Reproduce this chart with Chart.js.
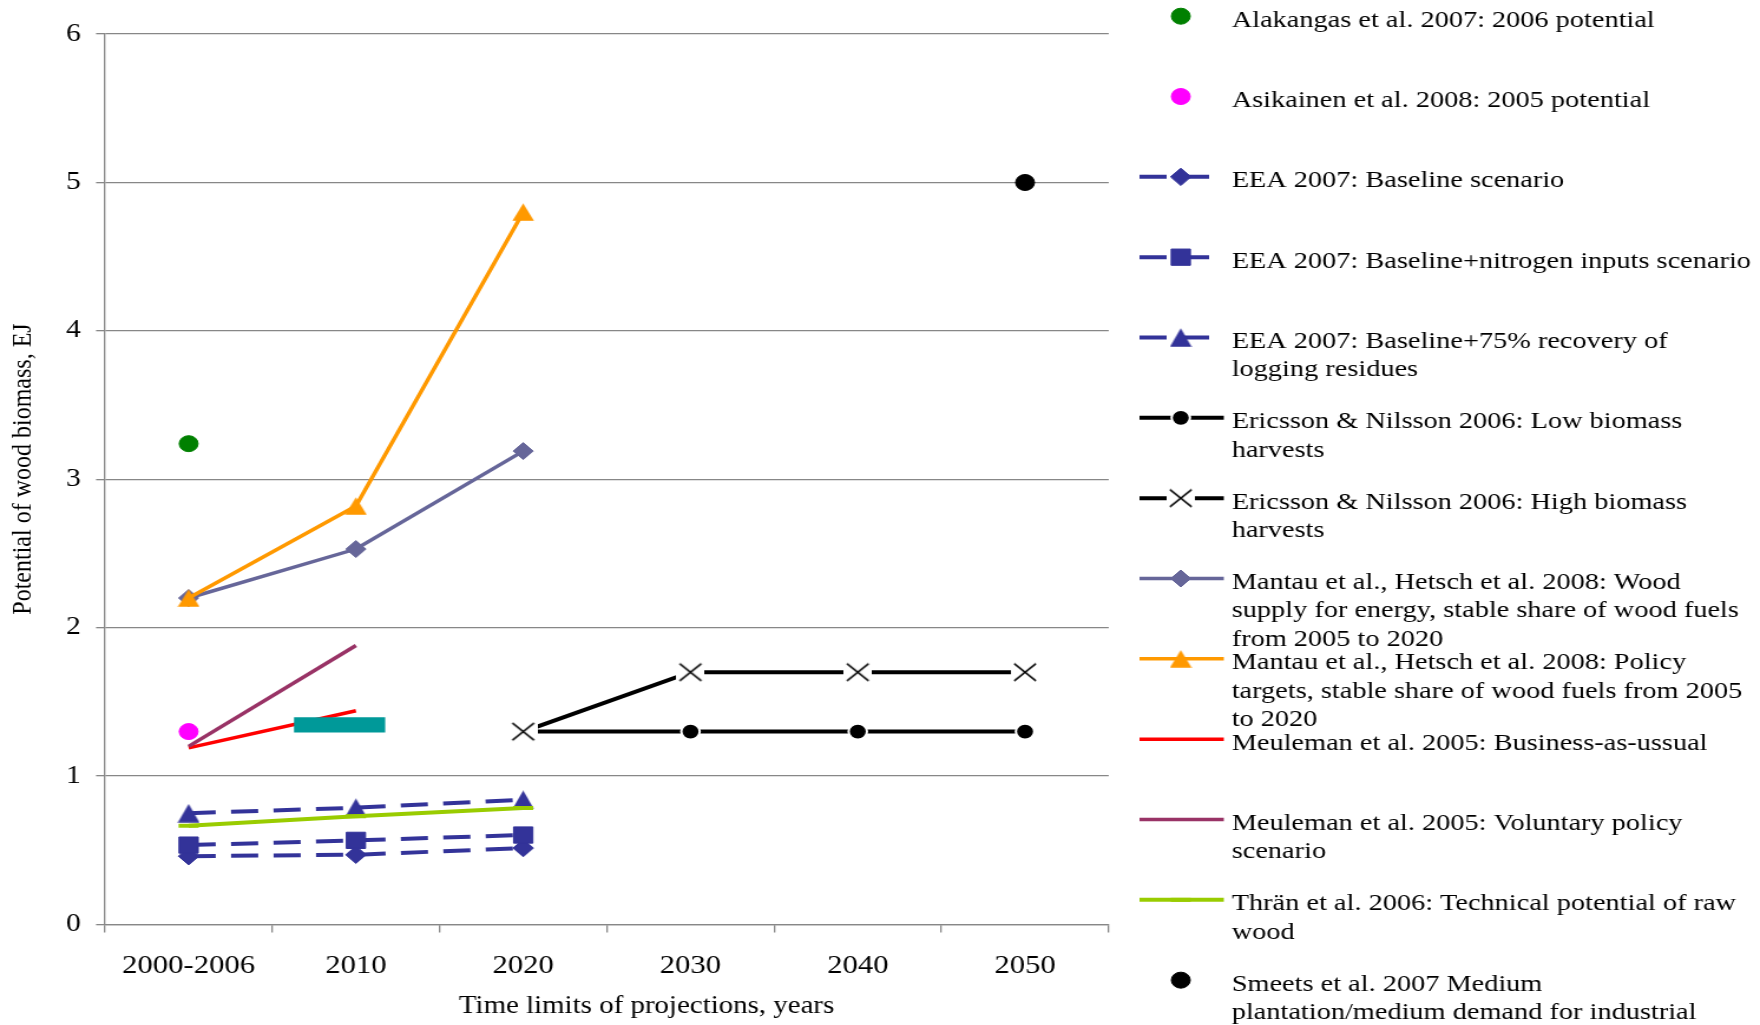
<!DOCTYPE html>
<html>
<head>
<meta charset="utf-8">
<title>Potential of wood biomass</title>
<script src="https://cdn.jsdelivr.net/npm/chart.js@4.4.1/dist/chart.umd.min.js"></script>
<style>
  html, body { margin: 0; padding: 0; background: #fff; overflow: hidden; }
  /* the source figure is stretched sideways, so the chart is drawn narrow and widened */
  #wrap { width: 1492px; height: 1025px; transform: scaleX(1.1796); transform-origin: 0 0; }
</style>
</head>
<body>
<div id="wrap"><canvas id="myChart"></canvas></div>
<script>
const categories = ['2000-2006', '2010', '2020', '2030', '2040', '2050'];
const yTickValues = [0, 1, 2, 3, 4, 5, 6];

const alakangas2006 = [3.24, null, null, null, null, null];
const asikainen2005 = [1.30, null, null, null, null, null];
const eeaBaseline = [0.46, 0.47, 0.515, null, null, null];
const eeaNitrogen = [0.535, 0.567, 0.603, null, null, null];
const eeaResidues = [0.75, 0.787, 0.84, null, null, null];
const ericssonLow = [null, null, 1.30, 1.30, 1.30, 1.30];
const ericssonHigh = [null, null, 1.30, 1.70, 1.70, 1.70];
const mantauSupply = [2.20, 2.53, 3.19, null, null, null];
const mantauPolicy = [2.20, 2.82, 4.80, null, null, null];
const meulemanBau = [1.19, 1.44, null, null, null, null];
const meulemanVoluntary = [1.20, 1.88, null, null, null, null];
const thranTechnical = [0.665, 0.73, 0.785, null, null, null];
const smeetsMedium = [null, null, null, null, null, 5.00];
// thick teal band between the first two categories (x = category index)
const tealBandX = [0.63, 1.175];
const tealBandY = [1.345, 1.345];

const legendLabels = [
    ['Alakangas et al. 2007: 2006 potential'],
    ['Asikainen et al. 2008: 2005 potential'],
    ['EEA 2007: Baseline scenario'],
    ['EEA 2007: Baseline+nitrogen inputs scenario'],
    ['EEA 2007: Baseline+75% recovery of', 'logging residues'],
    ['Ericsson & Nilsson 2006: Low biomass', 'harvests'],
    ['Ericsson & Nilsson 2006: High biomass', 'harvests'],
    ['Mantau et al., Hetsch et al. 2008: Wood', 'supply for energy, stable share of wood fuels', 'from 2005 to 2020'],
    ['Mantau et al., Hetsch et al. 2008: Policy', 'targets, stable share of wood fuels from 2005', 'to 2020'],
    ['Meuleman et al. 2005: Business-as-ussual'],
    ['Meuleman et al. 2005: Voluntary policy', 'scenario'],
    ['Thrän et al. 2006: Technical potential of raw', 'wood'],
    ['Smeets et al. 2007 Medium', 'plantation/medium demand for industrial', 'roundwood']
];
const xTitle = 'Time limits of projections, years';
const yTitle = 'Potential of wood biomass, EJ';

const GRID = '#878787';
const FONT = '"Liberation Serif", "Times New Roman", serif';
Chart.defaults.font.family = FONT;

// small canvas markers, centred like the spreadsheet ones
function makeMarker(w, h, paint) {
    const c = document.createElement('canvas');
    c.width = w;
    c.height = h;
    paint(c.getContext('2d'), w, h);
    return c;
}
function triangle(color, w, h) {
    return makeMarker(w, h, (g) => {
        g.fillStyle = color;
        g.beginPath();
        g.moveTo(w / 2, 0.3);
        g.lineTo(w - 0.3, h - 0.3);
        g.lineTo(0.3, h - 0.3);
        g.closePath();
        g.fill();
    });
}
const triEEA = triangle('#333399', 19, 19);
const triOrange = triangle('#FF9900', 19, 18);
const crossMark = makeMarker(24, 21, (g, w, h) => {
    g.fillStyle = '#fff';
    g.fillRect(0, 0, w, h);
    g.strokeStyle = '#000';
    g.lineWidth = 1.5;
    g.beginPath();
    g.moveTo(w / 2 - 9.2, h / 2 - 8.6);
    g.lineTo(w / 2 + 9.2, h / 2 + 8.6);
    g.moveTo(w / 2 + 9.2, h / 2 - 8.6);
    g.lineTo(w / 2 - 9.2, h / 2 + 8.6);
    g.stroke();
});

function series(label, data, color, extra) {
    return Object.assign({
        label: label,
        data: data,
        borderColor: color,
        backgroundColor: color,
        pointBackgroundColor: color,
        pointBorderColor: color,
        pointBorderWidth: 1,
        pointRadius: 0,
        borderWidth: 3.5,
        fill: false,
        tension: 0
    }, extra);
}

const datasets = [
    series(legendLabels[0].join(' '), alakangas2006, '#008000', { showLine: false, pointRadius: 8 }),
    series(legendLabels[1].join(' '), asikainen2005, '#FF00FF', { showLine: false, pointRadius: 8 }),
    series(legendLabels[2].join(' '), eeaBaseline, '#333399', { borderWidth: 4, borderDash: [23, 13], pointStyle: 'rectRot', pointRadius: 8.7, legendEnd: 1027 }),
    series(legendLabels[3].join(' '), eeaNitrogen, '#333399', { borderWidth: 4, borderDash: [23, 13], pointStyle: 'rect', pointRadius: 11.5, legendEnd: 1027 }),
    series(legendLabels[4].join(' '), eeaResidues, '#333399', { borderWidth: 4, borderDash: [23, 13], pointStyle: triEEA, pointRadius: 10, legendEnd: 1027 }),
    series(legendLabels[5].join(' '), ericssonLow, '#000000', { borderWidth: 4, pointRadius: [0, 0, 0, 7.8, 7.8, 7.8], pointBorderColor: '#fff', pointBorderWidth: 2 }),
    series(legendLabels[6].join(' '), ericssonHigh, '#000000', { borderWidth: 4, pointStyle: crossMark, pointRadius: 10 }),
    series(legendLabels[7].join(' '), mantauSupply, '#666699', { pointStyle: 'rectRot', pointRadius: 8.5 }),
    series(legendLabels[8].join(' '), mantauPolicy, '#FF9900', { pointStyle: triOrange, pointRadius: 10 }),
    series(legendLabels[9].join(' '), meulemanBau, '#FF0000', {}),
    series(legendLabels[10].join(' '), meulemanVoluntary, '#993366', {}),
    series(legendLabels[11].join(' '), thranTechnical, '#99CC00', { borderWidth: 4, pointStyle: 'line', pointRadius: 8.5, pointBorderWidth: 4 }),
    series(legendLabels[12].join(' '), smeetsMedium, '#000000', { showLine: false, pointRadius: 8 }),
    series('band', tealBandX.map((x, i) => ({ x: x, y: tealBandY[i] })), '#009999', { xAxisID: 'x2', borderWidth: 15.4, borderCapStyle: 'butt', noLegend: true })
];
// later series are painted over earlier ones, as in the source
datasets.forEach((d, i) => { d.order = datasets.length - i; });

const sideLegend = {
    id: 'sideLegend',
    afterDraw(chart) {
        const ctx = chart.ctx;
        ctx.save();
        chart.data.datasets.forEach((ds, i) => {
            if (ds.noLegend) return;
            const lines = legendLabels[i];
            const base = 26.7 + 80.33 * i;
            const my = base - 10.5;
            if (ds.showLine !== false) {
                ctx.save();
                ctx.strokeStyle = ds.borderColor;
                ctx.lineWidth = ds.borderWidth;
                ctx.setLineDash(ds.borderDash || []);
                ctx.beginPath();
                ctx.moveTo(966, my);
                ctx.lineTo(ds.legendEnd || 1037.5, my);
                ctx.stroke();
                ctx.restore();
            }
            const r = Array.isArray(ds.pointRadius) ? Math.max(...ds.pointRadius) : ds.pointRadius;
            if (r > 0) {
                ctx.save();
                ctx.fillStyle = ds.pointBackgroundColor;
                ctx.strokeStyle = ds.pointBorderColor;
                ctx.lineWidth = ds.pointBorderWidth;
                Chart.helpers.drawPoint(ctx, {
                    pointStyle: ds.pointStyle || 'circle',
                    radius: r,
                    rotation: 0,
                    borderWidth: ds.pointBorderWidth
                }, 1001, my);
                ctx.restore();
            }
            ctx.fillStyle = '#000';
            ctx.font = '24px ' + FONT;
            ctx.textAlign = 'left';
            ctx.textBaseline = 'alphabetic';
            lines.forEach((t, j) => ctx.fillText(t, 1044.2, base + 28.4 * j));
        });

        // axis titles: both sit a little off-centre in the source
        ctx.fillStyle = '#000';
        ctx.font = '24.5px ' + FONT;
        ctx.textAlign = 'center';
        ctx.textBaseline = 'alphabetic';
        ctx.fillText(xTitle, 548.1, 1012.7);

        ctx.save();
        ctx.translate(20, 469);
        ctx.rotate(-Math.PI / 2);
        ctx.font = '24px ' + FONT;
        ctx.textBaseline = 'middle';
        ctx.fillText(yTitle, 0, 0);
        ctx.restore();
        ctx.restore();
    }
};

new Chart(document.getElementById('myChart'), {
    type: 'line',
    data: {
        labels: categories,
        datasets: datasets
    },
    options: {
        responsive: true,
        maintainAspectRatio: false,
        animation: false,
        events: [],
        layout: { padding: { top: 34.1, right: 552.1, bottom: 0, left: 0 } },
        plugins: {
            legend: { display: false },
            tooltip: { enabled: false }
        },
        scales: {
            x: {
                type: 'category',
                offset: true,
                grid: { drawOnChartArea: false, drawTicks: true, tickLength: 8, color: GRID, lineWidth: 1.3, offset: true },
                border: { display: true, color: GRID, width: 1.3 },
                ticks: { color: '#000', font: { size: 26, lineHeight: 1 }, padding: 21, maxRotation: 0, autoSkip: false },
                afterFit: (s) => { s.height = 100.5; }
            },
            x2: { type: 'linear', display: false, min: -0.5, max: 5.5 },
            y: {
                min: 0,
                max: 6,
                afterBuildTicks: (s) => { s.ticks = yTickValues.map(v => ({ value: v })); },
                grid: { color: GRID, lineWidth: 1.3, tickLength: 7.6 },
                border: { display: true, color: GRID, width: 1.3 },
                ticks: { color: '#000', font: { size: 25, lineHeight: 1 }, padding: 12.9 },
                afterFit: (s) => { s.width = 89; }
            }
        }
    },
    plugins: [sideLegend]
});
</script>
</body>
</html>
